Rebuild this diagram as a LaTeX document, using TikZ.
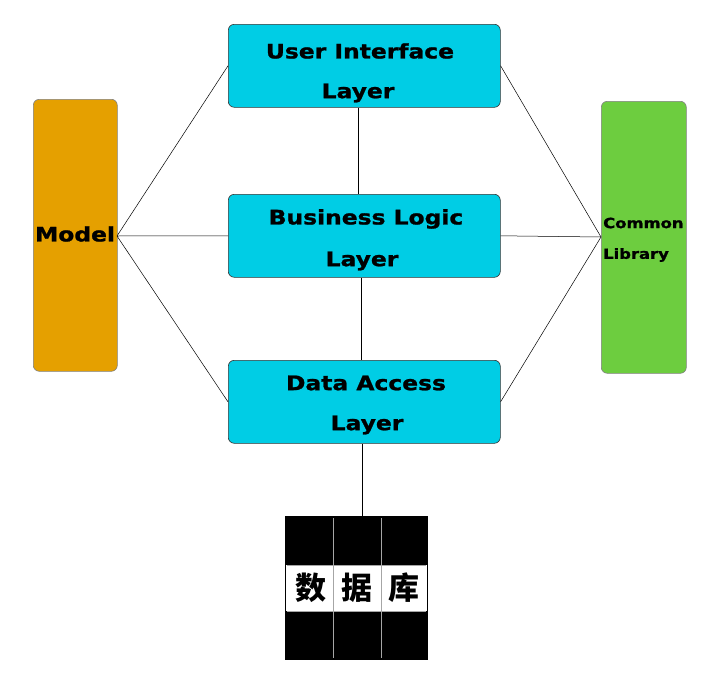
\documentclass[tikz,border=0pt]{standalone}
\usepackage{fontspec}
\setmainfont{DejaVu Sans}
\newfontfamily\widefont{DejaVu Sans}[FakeStretch=1.17, BoldFeatures={FakeBold=1.2}]
\newfontfamily\cjk{Noto Sans CJK SC}[BoldFont={* Black}]
\definecolor{layercyan}{HTML}{00CDE5}
\definecolor{modelorange}{HTML}{E5A000}
\definecolor{libgreen}{HTML}{6DCD3F}
\begin{document}
\begin{tikzpicture}[x=1pt,y=-1pt,
  box/.style={draw=black!80, line width=0.6pt, rounded corners=6pt},
  lbl/.style={font=\widefont\fontsize{20}{22}\selectfont\bfseries, text=black, inner sep=0pt},
  cjklbl/.style={font=\cjk\fontsize{31}{33}\selectfont\bfseries, inner sep=0pt},
  conn/.style={draw=black, line width=0.5pt}]
\useasboundingbox (0,0) rectangle (725,680);
% boxes
\node[box, fill=layercyan, minimum width=272pt, minimum height=83pt, anchor=north west] (ui) at (228,24) {};
\node[box, fill=layercyan, minimum width=272pt, minimum height=83pt, anchor=north west] (bl) at (228,194) {};
\node[box, fill=layercyan, minimum width=272pt, minimum height=83pt, anchor=north west] (da) at (228,360) {};
\node[box, draw=black!50, fill=modelorange, minimum width=84pt, minimum height=272pt, anchor=north west] (model) at (33,99) {};
\node[box, draw=black!50, fill=libgreen, minimum width=85pt, minimum height=272pt, anchor=north west] (lib) at (601,101) {};
% labels
\node[lbl] (t1) at (360,51) {User Interface};
\node[lbl] (t2) at (358,93) {Layer};
\node[lbl] (t3) at (366,219) {Business Logic};
\node[lbl] (t4) at (362,261) {Layer};
\node[lbl] (t5) at (366,383) {Data Access};
\node[lbl] (t6) at (367,425) {Layer};
\node[lbl, font=\widefont\fontsize{20}{22}\selectfont\bfseries] (t7) at (75,234) {Model};
\node[lbl, font=\widefont\fontsize{14}{16}\selectfont\bfseries, anchor=west] (t8) at (603,223) {Common};
\node[lbl, font=\widefont\fontsize{14}{16}\selectfont\bfseries, anchor=west] (t9) at (603,255) {Library};
% connector anchors
\coordinate (mr) at (117,236);
\coordinate (ll) at (601,237);
\draw[conn] (mr) -- (ui.west);
\draw[conn] (mr) -- (bl.west);
\draw[conn] (mr) -- (da.west);
\draw[conn] (ui.east) -- (ll);
\draw[conn] (bl.east) -- (ll);
\draw[conn] (da.east) -- (ll);
\draw[conn] (ui.south -| t2) coordinate (us) -- (bl.north -| us);
\draw[conn] (bl.south -| 361,0) -- (da.north -| 361,0);
% database
\node[fill=black, minimum width=143pt, minimum height=144pt, inner sep=0pt, anchor=north west] (db) at (285,516) {};
\draw[conn] (da.south -| 362,0) -- (db.north -| 362,0);
\fill[white] (286,565) rectangle (427,611);
\foreach \x in {333,381} \draw[black!35, line width=0.8pt] (\x,518) -- (\x,658);
\draw[black!35, line width=0.8pt] (287,565) -- (426,565);
\draw[black!35, line width=0.8pt] (287,611) -- (426,611);
\node[cjklbl] (c1) at (311,588) {数};
\node[cjklbl] (c2) at (357,588) {据};
\node[cjklbl] (c3) at (404,588) {库};
\end{tikzpicture}
\end{document}
